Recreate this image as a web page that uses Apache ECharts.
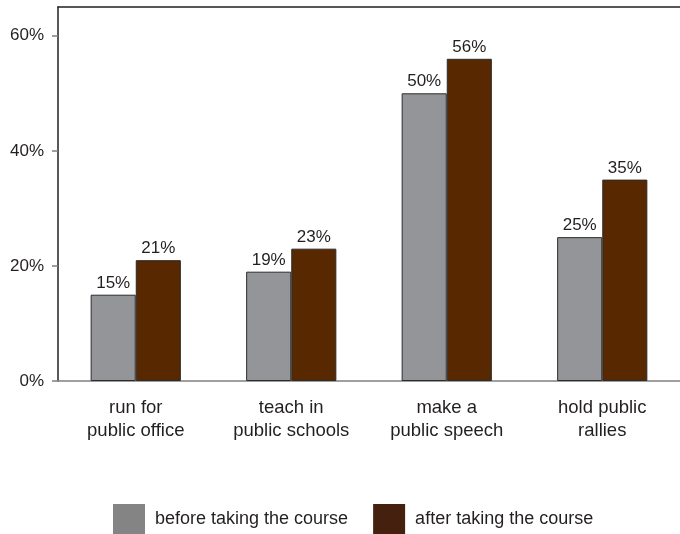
<!DOCTYPE html>
<html>
<head>
<meta charset="utf-8">
<script src="https://cdn.jsdelivr.net/npm/echarts@6/dist/echarts.min.js"></script>
<style>
  html, body { margin: 0; padding: 0; background: #ffffff; }
  #chart { width: 680px; height: 534px; }
</style>
</head>
<body>
<div id="chart"></div>
<script>
// Survey results: share of respondents willing to do each activity
const categories = ['run for\npublic office', 'teach in\npublic schools', 'make a\npublic speech', 'hold public\nrallies'];
const beforeValues = [15, 19, 50, 25];
const afterValues = [21, 23, 56, 35];
const yTicks = [0, 20, 40, 60];
const seriesNames = ['before taking the course', 'after taking the course'];

const FONT = '"Liberation Sans", Arial, Helvetica, sans-serif';
const TEXT = '#231f20';

const chart = echarts.init(document.getElementById('chart'), null, { renderer: 'canvas' });

function barSeries(name, values, color) {
  return {
    name: name,
    type: 'bar',
    data: values,
    barGap: '0%',
    barCategoryGap: '42%',
    itemStyle: { color: color, borderColor: '#2b2b2b', borderWidth: 1 },
    label: {
      show: true,
      position: 'top',
      distance: 3,
      formatter: '{c}%',
      fontFamily: FONT,
      fontSize: 17,
      color: TEXT
    }
  };
}

chart.setOption({
  animation: false,
  backgroundColor: '#ffffff',
  grid: { left: 58, right: 0, top: 7, bottom: 153, containLabel: false },
  legend: {
    bottom: 0,
    left: 113,
    padding: 0,
    itemWidth: 32,
    itemHeight: 30,
    itemGap: 25,
    textStyle: { fontFamily: FONT, fontSize: 18, color: TEXT, padding: [0, 0, 0, 5] },
    data: [
      { name: seriesNames[0], icon: 'rect', itemStyle: { color: '#848484', borderWidth: 0 } },
      { name: seriesNames[1], icon: 'rect', itemStyle: { color: '#45200f', borderWidth: 0 } }
    ]
  },
  xAxis: [
    {
      type: 'category',
      data: categories,
      axisLine: { lineStyle: { color: '#808080', width: 1.5 } },
      axisTick: { show: false },
      axisLabel: {
        fontFamily: FONT,
        fontSize: 18.5,
        color: TEXT,
        lineHeight: 23,
        margin: 15
      }
    },
    {
      type: 'category',
      position: 'top',
      data: categories,
      axisLine: { show: true, lineStyle: { color: TEXT, width: 1.5 } },
      axisTick: { show: false },
      axisLabel: { show: false }
    }
  ],
  yAxis: {
    type: 'value',
    min: 0,
    max: 65,
    interval: 20,
    axisLine: { show: true, lineStyle: { color: TEXT, width: 1.5 } },
    axisTick: { show: true, length: 6, customValues: yTicks, lineStyle: { color: '#808080', width: 1.5 } },
    splitLine: { show: false },
    axisLabel: {
      fontFamily: FONT,
      fontSize: 17,
      color: TEXT,
      margin: 14,
      customValues: yTicks,
      formatter: function (v) { return v + '%'; }
    }
  },
  series: [
    barSeries(seriesNames[0], beforeValues, '#939598'),
    barSeries(seriesNames[1], afterValues, '#582800')
  ]
});
</script>
</body>
</html>
